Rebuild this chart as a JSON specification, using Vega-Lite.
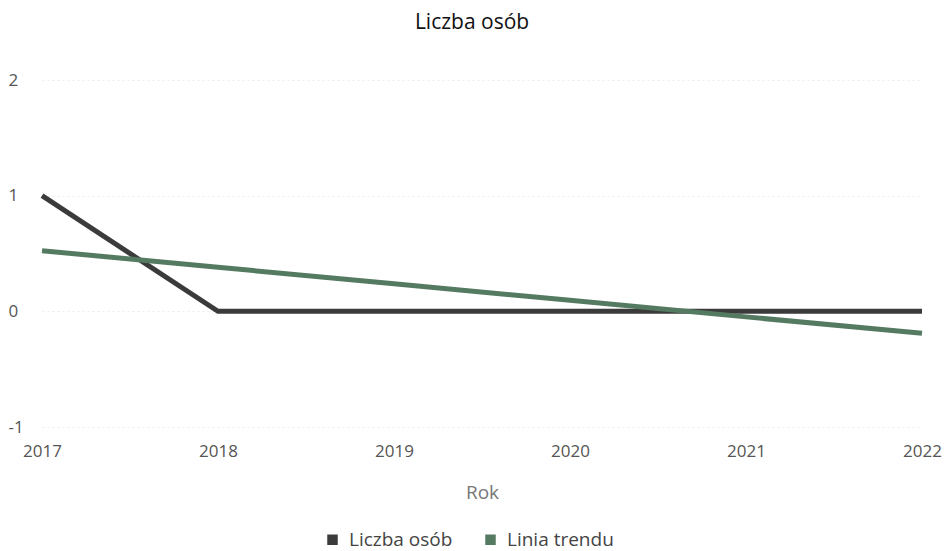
{
  "$schema": "https://vega.github.io/schema/vega-lite/v6.json",
  "autosize": {"type": "none"},
  "width": 880,
  "height": 347,
  "padding": {"left": 42, "top": 80, "right": 24, "bottom": 124},
  "background": "white",
  "title": {"text": "Liczba osób", "font": "Open Sans", "fontSize": 21, "fontWeight": "normal", "color": "#111111", "anchor": "middle", "offset": 38, "dx": -10},
  "data": {"values": [
    {"Rok": "2017", "series": "Liczba osób", "value": 1},
    {"Rok": "2018", "series": "Liczba osób", "value": 0},
    {"Rok": "2019", "series": "Liczba osób", "value": 0},
    {"Rok": "2020", "series": "Liczba osób", "value": 0},
    {"Rok": "2021", "series": "Liczba osób", "value": 0},
    {"Rok": "2022", "series": "Liczba osób", "value": 0},
    {"Rok": "2017", "series": "Linia trendu", "value": 0.524},
    {"Rok": "2018", "series": "Linia trendu", "value": 0.381},
    {"Rok": "2019", "series": "Linia trendu", "value": 0.238},
    {"Rok": "2020", "series": "Linia trendu", "value": 0.095},
    {"Rok": "2021", "series": "Linia trendu", "value": -0.048},
    {"Rok": "2022", "series": "Linia trendu", "value": -0.190}
  ]},
  "mark": {"type": "line", "strokeWidth": 5, "strokeCap": "butt"},
  "encoding": {
    "x": {"field": "Rok", "type": "ordinal", "scale": {"type": "point", "padding": 0},
      "axis": {"title": "Rok", "labelAngle": 0, "labelFlush": false, "labelFont": "Open Sans", "labelFontSize": 17, "labelColor": "#555555", "labelPadding": 16, "domain": false, "ticks": false, "grid": false,
        "titleFont": "Open Sans", "titleFontSize": 19, "titleFontWeight": "normal", "titleColor": "#777777", "titlePadding": 24}},
    "y": {"field": "value", "type": "quantitative", "scale": {"domain": [-1, 2], "nice": false, "zero": false},
      "axis": {"title": null, "values": [-1, 0, 1, 2], "labelExpr": "datum.value", "labelAlign": "left", "labelPadding": 34, "labelFlush": false, "ticks": false, "domain": false, "labelFont": "Open Sans", "labelFontSize": 17, "labelColor": "#555555",
        "grid": true, "gridColor": "#ececec", "gridDash": [2, 3], "gridWidth": 1}},
    "color": {"field": "series", "type": "nominal",
      "scale": {"domain": ["Liczba osób", "Linia trendu"], "range": ["#3b3b3b", "#557a62"]},
      "legend": {"title": null, "orient": "none", "legendX": 281, "legendY": 450, "direction": "horizontal", "symbolType": "square", "symbolSize": 110, "labelFont": "Open Sans", "labelFontSize": 19, "labelColor": "#444444", "columnPadding": 28, "labelOffset": 7,
        "encode": {"symbols": {"update": {"fill": {"scale": "color", "field": "value"}, "strokeWidth": {"value": 0}}}}}}
  },
  "config": {"view": {"stroke": null}}
}
